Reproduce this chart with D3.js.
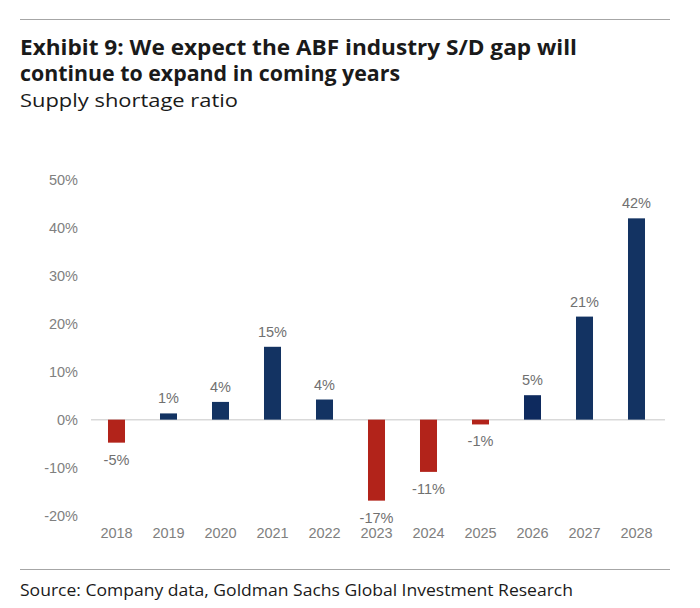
<!DOCTYPE html>
<html>
<head>
<meta charset="utf-8">
<script src="https://cdn.jsdelivr.net/npm/d3@7"></script>
<style>
  body { margin: 0; background: #fff; }
  svg { display: block; }
</style>
</head>
<body>
<div id="chart"></div>
<script>
const years = ["2018", "2019", "2020", "2021", "2022", "2023", "2024", "2025", "2026", "2027", "2028"];
const shortage = [-4.8, 1.3, 3.7, 15.2, 4.2, -16.9, -10.9, -1, 5.1, 21.5, 42];
const valueLabels = ["-5%", "1%", "4%", "15%", "4%", "-17%", "-11%", "-1%", "5%", "21%", "42%"];
const yTicks = [-20, -10, 0, 10, 20, 30, 40, 50];

const W = 700, H = 608;

const svg = d3.select("#chart").append("svg")
    .attr("width", W)
    .attr("height", H);

// top and bottom rules
svg.append("line")
    .attr("x1", 20).attr("x2", 670).attr("y1", 19.5).attr("y2", 19.5)
    .attr("stroke", "#a6a6a6").attr("stroke-width", 1.2);
svg.append("line")
    .attr("x1", 20).attr("x2", 670).attr("y1", 569.5).attr("y2", 569.5)
    .attr("stroke", "#a6a6a6").attr("stroke-width", 1.2);

// titles
const titleFont = "'Open Sans', 'Noto Sans', sans-serif";
svg.append("text")
    .attr("x", 20).attr("y", 55)
    .style("font-family", titleFont).style("font-weight", "bold")
    .style("font-size", "21px").style("fill", "#1a1a1a")
    .attr("textLength", 557).attr("lengthAdjust", "spacingAndGlyphs")
    .text("Exhibit 9: We expect the ABF industry S/D gap will");
svg.append("text")
    .attr("x", 20).attr("y", 81)
    .style("font-family", titleFont).style("font-weight", "bold")
    .style("font-size", "21px").style("fill", "#1a1a1a")
    .attr("textLength", 380).attr("lengthAdjust", "spacingAndGlyphs")
    .text("continue to expand in coming years");
svg.append("text")
    .attr("x", 20).attr("y", 107)
    .style("font-family", titleFont)
    .style("font-size", "18px").style("fill", "#1a1a1a")
    .attr("textLength", 218).attr("lengthAdjust", "spacingAndGlyphs")
    .text("Supply shortage ratio");
svg.append("text")
    .attr("x", 20).attr("y", 596)
    .style("font-family", titleFont)
    .style("font-size", "16px").style("fill", "#1a1a1a")
    .attr("textLength", 553).attr("lengthAdjust", "spacingAndGlyphs")
    .text("Source: Company data, Goldman Sachs Global Investment Research");

// scales
const x = d3.scaleBand()
    .domain(years)
    .range([90.5, 662.5])
    .paddingInner(0.673)
    .paddingOuter(0.3365);

const y = d3.scaleLinear()
    .domain([-20, 50])
    .range([515.5, 180]);

const chartFont = "Arial, 'Liberation Sans', sans-serif";

// y axis labels
const yAxis = svg.append("g")
    .attr("transform", "translate(78,0)")
    .call(d3.axisLeft(y).tickValues(yTicks).tickSize(0).tickPadding(0).tickFormat(d => d + "%"));
yAxis.select(".domain").remove();
yAxis.selectAll("text")
    .style("font-family", chartFont).style("font-size", "14.5px").style("fill", "#808080");

// zero line
svg.append("line")
    .attr("x1", 91).attr("x2", 665)
    .attr("y1", y(0)).attr("y2", y(0))
    .attr("stroke", "#d9d9d9").attr("stroke-width", 1.5);

// bars
svg.selectAll(".bar")
    .data(years)
    .enter().append("rect")
    .attr("class", "bar")
    .attr("x", d => x(d))
    .attr("width", x.bandwidth())
    .attr("y", (d, i) => y(Math.max(0, shortage[i])))
    .attr("height", (d, i) => Math.abs(y(shortage[i]) - y(0)))
    .attr("fill", (d, i) => shortage[i] < 0 ? "#b2231a" : (d === "2026" ? "#0e2a5e" : "#133362"));

// value labels
svg.selectAll(".val")
    .data(years)
    .enter().append("text")
    .attr("class", "val")
    .attr("x", d => x(d) + x.bandwidth() / 2)
    .attr("y", (d, i) => shortage[i] >= 0 ? y(shortage[i]) - 10 : y(shortage[i]) + 22)
    .attr("text-anchor", "middle")
    .style("font-family", chartFont).style("font-size", "14.5px").style("fill", "#707070")
    .text((d, i) => valueLabels[i]);

// x axis labels
const xAxis = svg.append("g")
    .attr("transform", "translate(0,528)")
    .call(d3.axisBottom(x).tickSize(0).tickPadding(0));
xAxis.select(".domain").remove();
xAxis.selectAll("text")
    .style("font-family", chartFont).style("font-size", "14.5px").style("fill", "#808080");
</script>
</body>
</html>
